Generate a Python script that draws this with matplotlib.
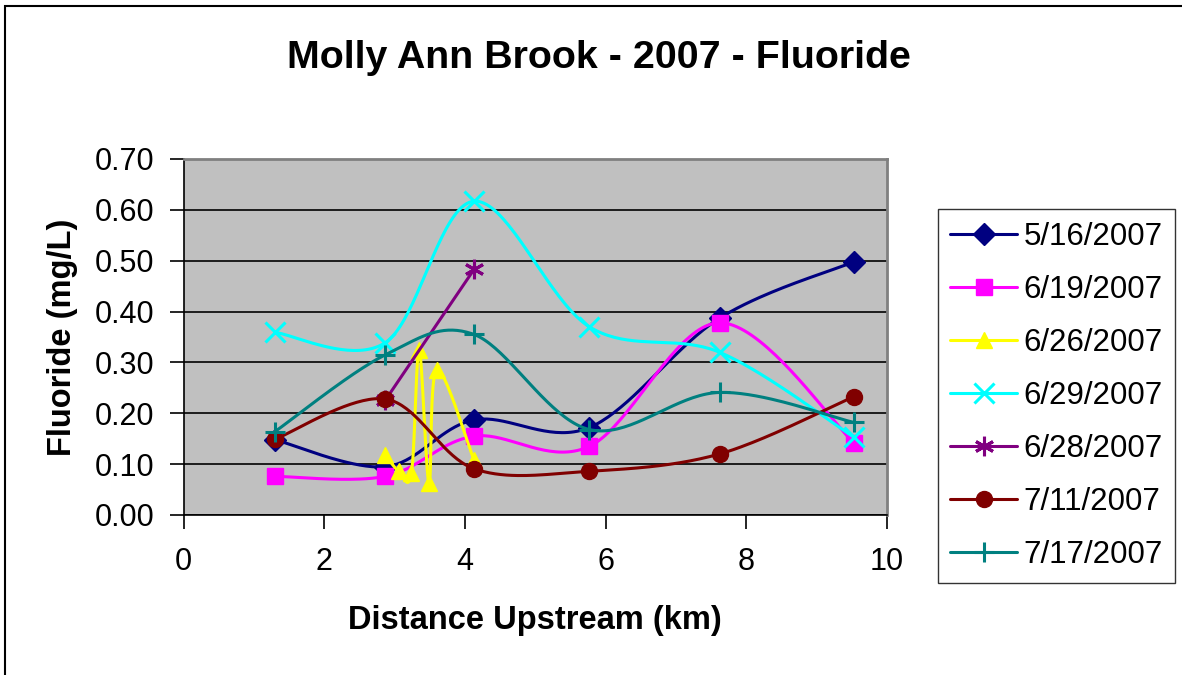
import matplotlib
matplotlib.use("Agg")
import matplotlib.pyplot as plt
import numpy as np
from matplotlib.patches import Rectangle

plt.rcParams['font.family'] = ['Liberation Sans', 'DejaVu Sans']

# distance upstream (km) of the sampling sites
dist = [1.30, 2.87, 4.13, 5.77, 7.62, 9.53]

labels = ['5/16/2007', '6/19/2007', '6/26/2007', '6/29/2007',
          '6/28/2007', '7/11/2007', '7/17/2007']

x_0516 = dist
f_0516 = [0.148, 0.095, 0.187, 0.172, 0.387, 0.498]

x_0619 = dist
f_0619 = [0.076, 0.076, 0.155, 0.135, 0.378, 0.142]

# 6/26 was sampled at a cluster of extra sites around 3 km
x_0626 = [2.87, 3.06, 3.24, 3.35, 3.49, 3.60, 4.13]
f_0626 = [0.118, 0.086, 0.082, 0.325, 0.062, 0.286, 0.108]

x_0629 = dist
f_0629 = [0.359, 0.339, 0.617, 0.370, 0.320, 0.153]

x_0628 = [2.87, 4.13]
f_0628 = [0.226, 0.483]

x_0711 = dist
f_0711 = [0.149, 0.228, 0.091, 0.086, 0.120, 0.233]

x_0717 = dist
f_0717 = [0.164, 0.315, 0.355, 0.168, 0.241, 0.182]

series = [(x_0516, f_0516), (x_0619, f_0619), (x_0626, f_0626), (x_0629, f_0629),
          (x_0628, f_0628), (x_0711, f_0711), (x_0717, f_0717)]

colors = ['#000080', '#FF00FF', '#FFFF00', '#00FFFF', '#800080', '#800000', '#008080']
markers = ['D', 's', '^', 'x', (6, 2, 0), 'o', '+']
msizes = [11, 11, 12, 14, 14, 11.5, 15]


def smooth(xs, ys, n=40):
    # spreadsheet-style smoothed line: cubic bezier through the points,
    # control points taken from the neighbouring points (catmull-rom)
    p = np.column_stack([xs, ys]).astype(float)
    if len(p) < 3:
        return p[:, 0], p[:, 1], list(range(len(p)))
    t = np.linspace(0, 1, n, endpoint=False)[:, None]
    out = []
    idx = []
    for i in range(len(p) - 1):
        p0 = p[max(i - 1, 0)]
        p1 = p[i]
        p2 = p[i + 1]
        p3 = p[min(i + 2, len(p) - 1)]
        c1 = p1 + (p2 - p0) / 6.0
        c2 = p2 - (p3 - p1) / 6.0
        seg = ((1 - t) ** 3) * p1 + 3 * ((1 - t) ** 2) * t * c1 + 3 * (1 - t) * t ** 2 * c2 + t ** 3 * p2
        idx.append(i * n)
        out.append(seg)
    out.append(p[-1][None, :])
    idx.append((len(p) - 1) * n)
    curve = np.vstack(out)
    return curve[:, 0], curve[:, 1], idx


fig = plt.figure(figsize=(11.82, 6.75), dpi=100)

# outer chart frame (runs off the right and bottom edge)
fig.patches.append(Rectangle((5 / 1182, -0.05), 1.2, 1 - 6 / 675 + 0.05,
                             transform=fig.transFigure, fill=False,
                             edgecolor='black', linewidth=1.5))

ax = fig.add_axes([183.5 / 1182, 1 - 515 / 675, (887 - 183.5) / 1182, (515 - 159) / 675])
ax.set_facecolor('#C0C0C0')

for (xs, ys), c, m, ms, lab in zip(series, colors, markers, msizes, labels):
    cx, cy, idx = smooth(xs, ys)
    mew = 2.2 if m in ('x', '+') or isinstance(m, tuple) else 1
    ax.plot(cx, cy, color=c, lw=2.2, marker=m, markevery=idx, markersize=ms,
            markerfacecolor=c, markeredgecolor=c, markeredgewidth=mew,
            label=lab, solid_capstyle='round', solid_joinstyle='round', clip_on=False)

ax.set_xlim(0, 10)
ax.set_ylim(0, 0.70)
ax.set_xticks(np.arange(0, 11, 2))
ax.set_yticks(np.arange(0, 0.71, 0.1))
ax.set_yticklabels(['%.2f' % v for v in np.arange(0, 0.71, 0.1)])
ax.yaxis.grid(True, color='black', linewidth=1.2)
ax.set_axisbelow(True)
ax.tick_params(axis='both', direction='out', length=10, width=1.2, labelsize=22, color='black')
ax.tick_params(axis='y', pad=11)
ax.tick_params(axis='x', pad=13)
for s in ['top', 'right']:
    ax.spines[s].set_color('#808080')
    ax.spines[s].set_linewidth(2)
for s in ['left', 'bottom']:
    ax.spines[s].set_color('black')
    ax.spines[s].set_linewidth(1.2)

fig.text(598.5 / 1182, 1 - 68.3 / 675, 'Molly Ann Brook - 2007 - Fluoride',
         ha='center', va='baseline', fontsize=28.4, fontweight='bold')
fig.text(62 / 1182, 1 - 337 / 675, 'Fluoride (mg/L)', rotation=90,
         ha='center', va='center', fontsize=23.5, fontweight='bold')
fig.text(535 / 1182, 1 - 620 / 675, 'Distance Upstream (km)',
         ha='center', va='center', fontsize=23.5, fontweight='bold')

leg = ax.legend(loc='upper left', bbox_to_anchor=(937.5 / 1182, 1 - 209 / 675),
                bbox_transform=fig.transFigure, fontsize=22.5, frameon=True,
                fancybox=False, edgecolor='black', borderpad=0.4,
                labelspacing=0.74, handlelength=2.15, handletextpad=0.2,
                borderaxespad=0, markerscale=1.0)
leg.get_frame().set_linewidth(1.0)
leg.get_frame().set_facecolor('white')

fig.savefig('out.png', dpi=100)
